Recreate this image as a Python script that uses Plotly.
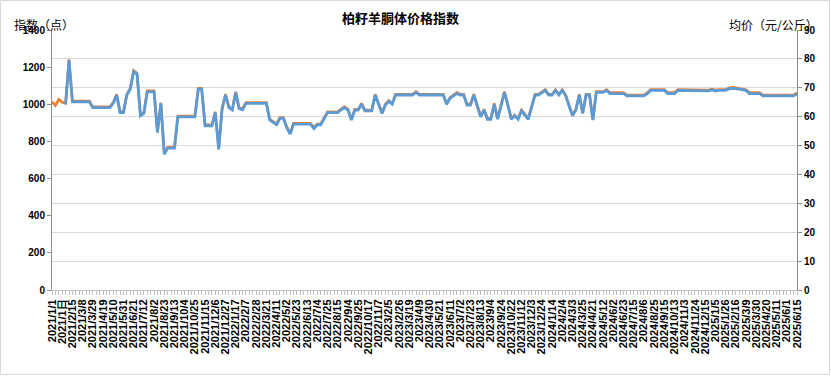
import plotly.graph_objects as go

title_text = "柏籽羊胴体价格指数"
left_title = "指数（点）"
right_title = "均价（元/公斤）"

index_vals = [
    1014, 993, 1027, 1011, 1005, 1242, 1018, 1018, 1018, 1018,
    1018, 1018, 987, 987, 987, 987, 987, 987, 1010, 1054,
    960, 960, 1054, 1086, 1181, 1167, 942, 955, 1072, 1072,
    1072, 852, 1009, 736, 768, 768, 768, 937, 937, 937,
    937, 937, 937, 1086, 1086, 889, 889, 889, 960, 763,
    979, 1055, 987, 973, 1068, 982, 975, 1009, 1009, 1009,
    1009, 1009, 1009, 1009, 921, 905, 894, 928, 928, 880,
    844, 897, 897, 897, 897, 897, 897, 875, 894, 894,
    930, 960, 960, 960, 960, 975, 987, 973, 919, 973,
    973, 1005, 969, 969, 969, 1054, 1000, 955, 1000, 1020,
    1005, 1054, 1054, 1054, 1054, 1054, 1054, 1068, 1054, 1054,
    1054, 1054, 1054, 1054, 1054, 1054, 1005, 1036, 1050, 1063,
    1054, 1054, 1001, 1001, 1054, 1000, 937, 973, 924, 924,
    1005, 924, 995, 1068, 1000, 924, 942, 924, 969, 945,
    924, 990, 1054, 1054, 1065, 1079, 1054, 1054, 1079, 1054,
    1079, 1050, 995, 942, 973, 1054, 955, 1054, 1054, 919,
    1068, 1068, 1068, 1079, 1063, 1063, 1063, 1063, 1063, 1050,
    1050, 1050, 1050, 1050, 1050, 1063, 1079, 1079, 1079, 1079,
    1079, 1063, 1063, 1063, 1079, 1079, 1079, 1079, 1079, 1079,
    1079, 1077, 1077, 1077, 1082, 1077, 1079, 1079, 1079, 1088,
    1091, 1089, 1086, 1082, 1079, 1063, 1063, 1063, 1063, 1050,
    1050, 1050, 1050, 1050, 1050, 1050, 1050, 1050, 1050, 1061,
]

price_vals = [
    None, None, None, None, 64.3, 79.5, 65.1, 65.1, 65.1, 65.1,
    65.1, 65.1, 63.1, 63.1, 63.1, 63.1, 63.1, 63.1, 64.6, 67.5,
    61.4, 61.4, 67.5, 69.5, 75.6, 74.7, 60.3, 61.1, 68.6, 68.6,
    68.6, 54.5, 64.6, 47.0, 49.1, 49.1, 49.1, 59.9, 59.9, 59.9,
    59.9, 59.9, 59.9, 69.5, 69.5, 56.8, 56.8, 56.8, 61.4, 48.7,
    62.6, 67.5, 63.1, 62.3, 68.4, 62.8, 62.4, 64.6, 64.6, 64.6,
    64.6, 64.6, 64.6, 64.6, 58.9, 57.9, 57.2, 59.4, 59.4, 56.3,
    54.0, 57.4, 57.4, 57.4, 57.4, 57.4, 57.4, 55.9, 57.2, 57.2,
    59.5, 61.4, 61.4, 61.4, 61.4, 62.4, 63.1, 62.3, 58.8, 62.3,
    62.3, 64.3, 62.0, 62.0, 62.0, 67.5, 64.0, 61.1, 64.0, 65.3,
    64.3, 67.5, 67.5, 67.5, 67.5, 67.5, 67.5, 68.4, 67.5, 67.5,
    67.5, 67.5, 67.5, 67.5, 67.5, 67.5, 64.3, 66.3, 67.2, 68.0,
    67.5, 67.5, 64.0, 64.0, 67.5, 64.0, 59.9, 62.3, 59.1, 59.1,
    64.3, 59.1, 63.7, 68.4, 64.0, 59.1, 60.3, 59.1, 62.0, 60.4,
    59.1, 63.3, 67.5, 67.5, 68.2, 69.1, 67.5, 67.5, 69.1, 67.5,
    69.1, 67.2, 63.7, 60.3, 62.3, 67.5, 61.1, 67.5, 67.5, 58.8,
    68.4, 68.4, 68.4, 69.1, 68.0, 68.0, 68.0, 68.0, 68.0, 67.2,
    67.2, 67.2, 67.2, 67.2, 67.2, 68.0, 69.1, 69.1, 69.1, 69.1,
    69.1, 68.0, 68.0, 68.0, 69.1, 69.1, 69.1, 69.1, 69.1, 69.1,
    69.1, 68.9, 68.9, 68.9, 69.3, 68.9, 69.1, 69.1, 69.1, 69.6,
    69.8, 69.7, 69.5, 69.3, 69.1, 68.0, 68.0, 68.0, 68.0, 67.2,
    67.2, 67.2, 67.2, 67.2, 67.2, 67.2, 67.2, 67.2, 67.2, 67.9,
]

tick_labels = [
    "2021/1/1", "2021/1日", "2021/2/15", "2021/3/8", "2021/3/29", "2021/4/19", "2021/5/10",
    "2021/5/31", "2021/6/21", "2021/7/12", "2021/8/2", "2021/8/23", "2021/9/13", "2021/10/4",
    "2021/10/25", "2021/11/15", "2021/12/6", "2021/12/27",
    "2022/1/17", "2022/2/7", "2022/2/28", "2022/3/21", "2022/4/11", "2022/5/2", "2022/5/23",
    "2022/6/13", "2022/7/4", "2022/7/25", "2022/8/15", "2022/9/4", "2022/9/25", "2022/10/17",
    "2022/11/7",
    "2023/2/5", "2023/2/26", "2023/3/19", "2023/4/9", "2023/4/30", "2023/5/21", "2023/6/11",
    "2023/7/2", "2023/7/23", "2023/8/13", "2023/9/4", "2023/9/24", "2023/10/22", "2023/11/12",
    "2023/12/3", "2023/12/24",
    "2024/1/14", "2024/2/4", "2024/3/3", "2024/3/25", "2024/4/21", "2024/5/12", "2024/6/2",
    "2024/6/23", "2024/7/15", "2024/8/6", "2024/8/25", "2024/9/15", "2024/10/13", "2024/11/3",
    "2024/11/24", "2024/12/15",
    "2025/1/5", "2025/1/26", "2025/2/16", "2025/3/9", "2025/3/30", "2025/4/20", "2025/5/11",
    "2025/6/1", "2025/6/15",
]

left_ticks = [0, 200, 400, 600, 800, 1000, 1200, 1400]
right_ticks = [0, 10, 20, 30, 40, 50, 60, 70, 80, 90]

x_pos = list(range(len(index_vals)))
tick_pos = x_pos[::3]

W, H = 831, 376
ML, MR, MT, MB = 52, 34, 30, 86
PW, PH = W - ML - MR, H - MT - MB

y_font = dict(family="Liberation Sans, Arial, sans-serif", size=10, color="#000000", weight="bold")
x_font = dict(family="Liberation Sans, Arial, sans-serif", size=11, color="#000000", weight="bold")
cjk = "Noto Sans CJK SC, sans-serif"

fig = go.Figure()
fig.add_trace(go.Scatter(
    x=x_pos, y=index_vals, mode="lines", name="指数",
    line=dict(color="#ED7D31", width=2.6), yaxis="y", hoverinfo="skip",
))
fig.add_trace(go.Scatter(
    x=x_pos, y=price_vals, mode="lines", name="均价",
    line=dict(color="#5B9BD5", width=2.8), yaxis="y2", hoverinfo="skip",
))

fig.update_layout(
    width=W, height=H,
    margin=dict(l=ML, r=MR, t=MT, b=MB, pad=0, autoexpand=False),
    paper_bgcolor="white", plot_bgcolor="white",
    showlegend=False,
    xaxis=dict(
        range=[0, len(index_vals) - 1], automargin=False,
        tickmode="array", tickvals=tick_pos, ticktext=tick_labels,
        tickangle=-90, tickfont=x_font,
        ticks="outside", ticklen=4, tickcolor="#bfbfbf",
        minor=dict(dtick=1, tick0=0, ticks="outside", ticklen=4, tickcolor="#bfbfbf"),
        showline=True, linecolor="#bfbfbf", linewidth=1,
        showgrid=False, zeroline=False, fixedrange=True,
    ),
    yaxis=dict(
        range=[0, 1400], tickmode="array", tickvals=left_ticks, automargin=False,
        tickfont=y_font, ticks="outside", ticklen=4, tickcolor="#8c8c8c",
        showline=True, linecolor="#8c8c8c", linewidth=1,
        showgrid=False, zeroline=False,
    ),
    yaxis2=dict(
        range=[0, 90], tickmode="array", tickvals=right_ticks, automargin=False,
        tickfont=y_font, ticks="outside", ticklen=4, tickcolor="#8c8c8c",
        showline=True, linecolor="#8c8c8c", linewidth=1,
        showgrid=True, gridcolor="#d9d9d9", gridwidth=1,
        zeroline=False, overlaying="y", side="right",
    ),
    annotations=[
        dict(text="<b>" + title_text + "</b>", xref="paper", yref="paper",
             x=(400 - ML) / PW, y=1 + (MT - 18) / PH, xanchor="center", yanchor="middle",
             showarrow=False, font=dict(family=cjk, size=13, color="#000000")),
        dict(text=left_title, xref="paper", yref="paper",
             x=-(ML - 12) / PW, y=1 + (MT - 24) / PH, xanchor="left", yanchor="middle",
             showarrow=False, font=dict(family=cjk, size=12, color="#000000")),
        dict(text=right_title, xref="paper", yref="paper",
             x=1 + (MR - 11) / PW, y=1 + (MT - 24) / PH, xanchor="right", yanchor="middle",
             showarrow=False, font=dict(family=cjk, size=12, color="#000000")),
    ],
    shapes=[
        dict(type="rect", xref="paper", yref="paper",
             x0=-(ML - 0.5) / PW, x1=1 + (MR - 1.5) / PW,
             y0=-(MB - 1.5) / PH, y1=1 + (MT - 0.5) / PH,
             line=dict(color="#d9d9d9", width=1), fillcolor="rgba(0,0,0,0)", layer="below"),
    ],
)

fig.write_html("out.html", config={"displayModeBar": False},
               post_script="document.body.style.margin='0';")
